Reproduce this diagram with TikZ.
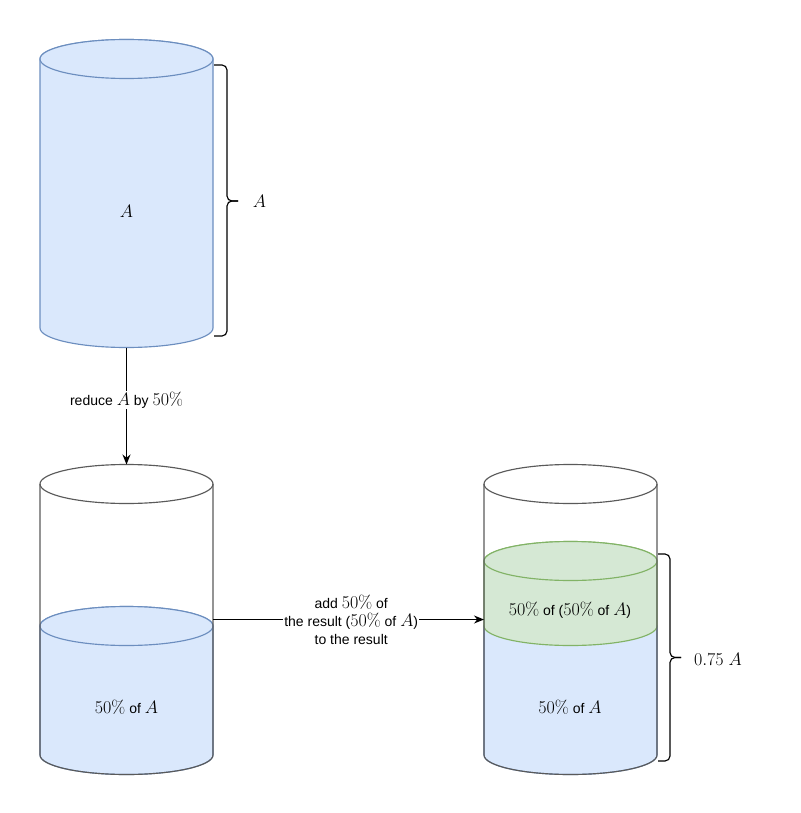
\RequirePackage{fix-cm}
\documentclass[tikz,border=0pt]{standalone}
\usepackage[no-math]{fontspec}
\setmainfont{Liberation Sans}
\usetikzlibrary{arrows.meta}
\definecolor{bfill}{HTML}{DAE8FC}
\definecolor{bline}{HTML}{6C8EBF}
\definecolor{gfill}{HTML}{D5E8D4}
\definecolor{gline}{HTML}{82B366}
\definecolor{cgray}{HTML}{5A5A5A}
\newcommand{\mth}[1]{{\fontsize{18}{20}\selectfont$#1$}}
\begin{document}
\begin{tikzpicture}[x=1pt,y=1pt,line width=1.15pt,
  txt/.style={font=\fontsize{14}{18}\selectfont, inner sep=1pt, align=center},
  lbl/.style={txt, fill=white},
  bluebody/.style={fill=bfill, draw=bline},
  greenbody/.style={fill=gfill, draw=gline},
  grayline/.style={draw=cgray},
  brace/.style={draw=black, rounded corners=5},
  arr/.style={draw=black, -{Stealth[length=10pt,width=8pt]}},
  er/.style={x radius=86.5, y radius=19.5}]
\useasboundingbox (0,0) rectangle (800,-813);
% top cylinder
\path[bluebody] (40,-59) -- (40,-328) arc[start angle=180,end angle=360,er] -- (213,-59) arc[start angle=0,end angle=180,er] -- cycle;
\path[bluebody] (126.5,-59) ellipse [er];
\node[txt] (ta) at (126.5,-211) {\mth{A}};
% brace top
\draw[brace] (214,-65) -- (227,-65) -- (227,-201) -- (238,-201);
\draw[brace] (214,-336) -- (227,-336) -- (227,-201) -- (238,-201);
\node[txt] (tal) at (259.5,-201.5) {\mth{A}};
% bottom-left cylinder
\path[bluebody] (40,-626) -- (40,-755) arc[start angle=180,end angle=360,er] -- (213,-626) arc[start angle=0,end angle=180,er] -- cycle;
\path[bluebody] (126.5,-626) ellipse [er];
\draw[grayline] (40,-484) -- (40,-755) arc[start angle=180,end angle=360,er] -- (213,-484);
\draw[grayline] (126.5,-484) ellipse [er];
\node[txt] (bl) at (126.5,-707) {\mth{50\%} of \mth{A}};
% bottom-right cylinder
\path[bluebody] (484,-626) -- (484,-755) arc[start angle=180,end angle=360,er] -- (657,-626) -- cycle;
\path[greenbody] (484,-561) -- (484,-626) arc[start angle=180,end angle=360,er] -- (657,-561) arc[start angle=0,end angle=180,er] -- cycle;
\path[greenbody] (570.5,-561) ellipse [er];
\draw[grayline] (484,-484) -- (484,-755) arc[start angle=180,end angle=360,er] -- (657,-484);
\draw[grayline] (570.5,-484) ellipse [er];
\node[txt] (rg) at (570,-610) {\mth{50\%} of (\mth{50\%} of \mth{A})};
\node[txt] (rb) at (570,-707) {\mth{50\%} of \mth{A}};
% brace right
\draw[brace] (658,-554) -- (670,-554) -- (670,-657.5) -- (681,-657.5);
\draw[brace] (658,-761) -- (670,-761) -- (670,-657.5) -- (681,-657.5);
\node[txt] (rl) at (718,-659) {\mth{0.75\ A}};
% arrows
\coordinate (s1) at (126.5,-347.5);
\coordinate (e1) at (126.5,-464.5);
\draw[arr] (s1) -- node[lbl, pos=0.45] (l1) {reduce \mth{A} by \mth{50\%}} (e1);
\coordinate (s2) at (213,-619.5);
\coordinate (e2) at (484,-619.5);
\draw[arr] (s2) -- node[lbl, pos=0.51] (l2) {add \mth{50\%} of\\the result (\mth{50\%} of \mth{A})\\to the result} (e2);
\end{tikzpicture}
\end{document}
